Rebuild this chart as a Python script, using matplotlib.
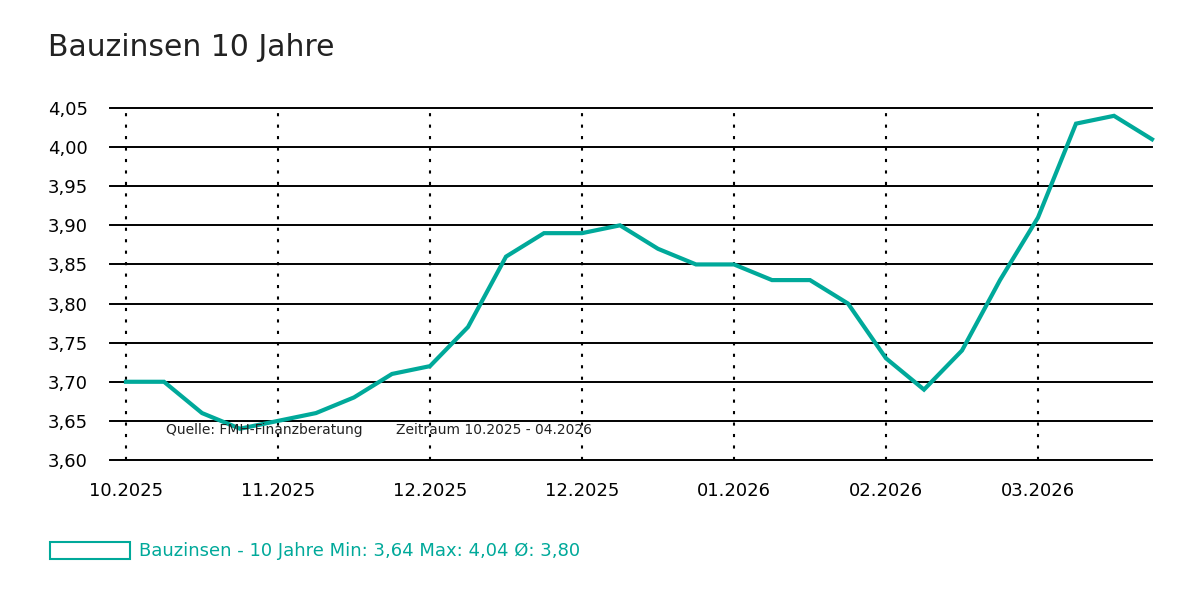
import numpy as np
import matplotlib
matplotlib.use("Agg")
from matplotlib import pyplot as plt
from matplotlib.patches import Rectangle

plt.rcParams['font.family'] = ['DejaVu Sans']

# weekly values
werte = [3.70, 3.70, 3.66, 3.64, 3.65, 3.66, 3.68, 3.71, 3.72, 3.77,
         3.86, 3.89, 3.89, 3.90, 3.87, 3.85, 3.85, 3.83, 3.83, 3.80,
         3.73, 3.69, 3.74, 3.83, 3.91, 4.03, 4.04, 4.01]
monat_pos = [0, 4, 8, 12, 16, 20, 24]
monat_labels = ['10.2025', '11.2025', '12.2025', '12.2025', '01.2026', '02.2026', '03.2026']
y_ticks = [3.60, 3.65, 3.70, 3.75, 3.80, 3.85, 3.90, 3.95, 4.00, 4.05]

teal = '#00a99a'

def de(v):
    return ('%.2f' % v).replace('.', ',')

fig = plt.figure(figsize=(12, 6), dpi=100)
ax = fig.add_axes([110/1200, 1 - 460/600, (1152 - 110)/1200, (460 - 108)/600])

x = np.arange(len(werte))
ax.set_xlim(-16/38, len(werte) - 1)
ax.set_ylim(3.60, 4.05)

for y in y_ticks:
    ax.axhline(y, color='black', lw=1.4, zorder=1, clip_on=False)
for p in monat_pos:
    ax.axvline(p, color='black', lw=1.5, ls=(0, (1.5, 4)), zorder=1)

ax.plot(x, werte, color=teal, lw=3, zorder=3, solid_joinstyle='miter', clip_on=False)

ax.set_yticks(y_ticks)
ax.set_yticklabels([de(v) for v in y_ticks], fontsize=13)
ax.set_xticks(monat_pos)
ax.set_xticklabels(monat_labels, fontsize=13)
ax.tick_params(length=0, pad=16, axis='x')
ax.tick_params(length=0, pad=16, axis='y')
for s in ax.spines.values():
    s.set_visible(False)

ax.text(1.05, 3.638, 'Quelle: FMH-Finanzberatung', fontsize=10, color='#222222', va='center', zorder=4)
ax.text(7.1, 3.638, 'Zeitraum 10.2025 - 04.2026', fontsize=10, color='#222222', va='center', zorder=4)

fig.text(48/1200, 1 - 48/600, 'Bauzinsen 10 Jahre', fontsize=21.5, color='#222222', va='center')

fig.patches.append(Rectangle((50/1200, 1 - 559/600), 80/1200, 17/600, transform=fig.transFigure,
                             facecolor='white', edgecolor=teal, lw=1.5))
leg = 'Bauzinsen - 10 Jahre Min: %s Max: %s Ø: %s' % (de(min(werte)), de(max(werte)), de(np.mean(werte)))
fig.text(139/1200, 1 - 551/600, leg, fontsize=13, color=teal, va='center')

fig.savefig('out.png', dpi=100)
